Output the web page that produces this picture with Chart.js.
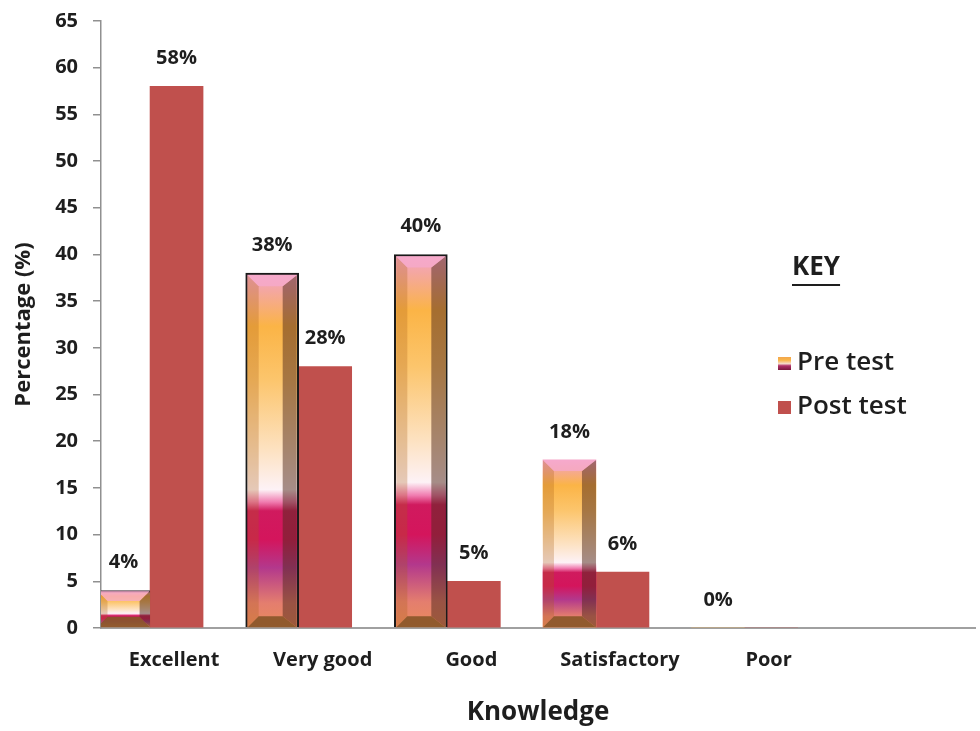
<!DOCTYPE html>
<html>
<head>
<meta charset="utf-8">
<script src="https://cdn.jsdelivr.net/npm/chart.js@4.4.1/dist/chart.umd.min.js"></script>
<style>
  html, body { margin: 0; padding: 0; background: #fff; }
  #wrap { width: 980px; height: 731px; }
</style>
</head>
<body>
<div id="wrap"><canvas id="graf"></canvas></div>
<script>
// values
const categories = ['Excellent', 'Very good', 'Good', 'Satisfactory', 'Poor'];
const preTest = [4, 38, 40, 18, 0];
const postTest = [58, 28, 5, 6, 0];
const seriesNames = ['Pre test', 'Post test'];
const yMax = 65;
const yStep = 5;

const FONT = '"Open Sans", "DejaVu Sans", sans-serif';
const TXT = '#1e1e1e';
const RED = '#c0504d';

// vertical colour run of the pre test bars, bottom (0) to top (1)
const preStops = [
  [0.00, '#e98b5c'], [0.07, '#e47e6e'], [0.17, '#b3388c'], [0.25, '#d4155c'],
  [0.33, '#d01a5e'], [0.355, '#f07cb0'], [0.39, '#fdf2f6'], [0.50, '#fde2c2'],
  [0.70, '#fcc56c'], [0.85, '#fbb446'], [0.95, '#f4a7a0'], [1.00, '#f5a6c8']
];

function preFill(c) {
  const chart = c.chart;
  if (!chart.chartArea || c.type !== 'data') return '#f9b44a';
  const ys = chart.scales.y;
  const top = ys.getPixelForValue(c.parsed.y);
  const base = ys.getPixelForValue(0);
  if (Math.abs(base - top) < 1) return '#f9b44a';
  const g = chart.ctx.createLinearGradient(0, base, 0, top);
  preStops.forEach(s => g.addColorStop(s[0], s[1]));
  return g;
}

// bevel shading on the pre test bars
const bevel = {
  id: 'bevel',
  afterDatasetsDraw(chart) {
    const ctx = chart.ctx;
    const ca = chart.chartArea;
    const meta = chart.getDatasetMeta(0);
    ctx.save();
    ctx.beginPath();
    ctx.rect(ca.left, ca.top, ca.right - ca.left, ca.bottom - ca.top);
    ctx.clip();
    meta.data.forEach((el, i) => {
      const p = el.getProps(['x', 'y', 'base', 'width'], true);
      const h = p.base - p.y;
      if (h < 2) return;
      const bw = (i == 1 || i == 2) ? 2 : 0;
      const x0 = p.x - p.width / 2 + bw, x1 = p.x + p.width / 2 - bw;
      const y0 = p.y + bw, y1 = p.base;
      const b = Math.min(11, h / 3.5);
      const br = Math.min(14, h / 3.5);
      const poly = (pts, col) => {
        ctx.beginPath();
        ctx.moveTo(pts[0][0], pts[0][1]);
        pts.slice(1).forEach(q => ctx.lineTo(q[0], q[1]));
        ctx.closePath();
        ctx.fillStyle = col;
        ctx.fill();
      };
      poly([[x0, y0], [x0 + b, y0 + b], [x0 + b, y1 - b], [x0, y1]], 'rgba(170,95,20,0.28)');
      poly([[x1, y0], [x1 - br, y0 + b], [x1 - br, y1 - b], [x1, y1]], 'rgba(80,40,25,0.50)');
      poly([[x0, y0], [x1, y0], [x1 - br, y0 + b], [x0 + b, y0 + b]], 'rgba(246,170,205,0.75)');
      poly([[x0, y1], [x1, y1], [x1 - br, y1 - b], [x0 + b, y1 - b]], 'rgba(135,85,40,0.9)');
    });
    ctx.restore();
  }
};

// percentage labels over the bars
const barLabels = {
  id: 'barLabels',
  afterDatasetsDraw(chart) {
    const ctx = chart.ctx;
    ctx.save();
    ctx.font = 'bold 20px ' + FONT;
    ctx.fillStyle = TXT;
    ctx.textAlign = 'center';
    ctx.textBaseline = 'middle';
    chart.data.datasets.forEach((ds, d) => {
      chart.getDatasetMeta(d).data.forEach((el, i) => {
        const v = ds.data[i].y;
        if (d == 1 && v == 0) return;
        ctx.fillText(v + '%', el.x, el.y - 28);
      });
    });
    ctx.restore();
  }
};

// the "KEY" box on the right
const keyBox = {
  id: 'keyBox',
  afterDraw(chart) {
    const ctx = chart.ctx;
    const x = 778;
    ctx.save();
    ctx.fillStyle = TXT;
    ctx.font = 'bold 26px ' + FONT;
    ctx.textBaseline = 'middle';
    ctx.textAlign = 'left';
    ctx.fillText('KEY', 792, 268);
    const w = ctx.measureText('KEY').width;
    ctx.fillRect(792, 284, w, 2);

    ctx.font = '600 26px ' + FONT;
    chart.data.datasets.forEach((ds, d) => {
      const y = 363 + d * 44;
      if (d == 0) {
        const g = ctx.createLinearGradient(0, y + 7, 0, y - 7);
        g.addColorStop(0, '#7a1a3c'); g.addColorStop(0.3, '#b0306a');
        g.addColorStop(0.45, '#f6dccc'); g.addColorStop(0.7, '#f9b648');
        g.addColorStop(1, '#f0a050');
        ctx.fillStyle = g;
      } else {
        ctx.fillStyle = RED;
      }
      ctx.fillRect(x, y - 6, 13, 13);
      ctx.fillStyle = TXT;
      ctx.fillText(ds.label, x + 19, y);
    });
    ctx.restore();
  }
};

const toPoints = arr => arr.map((v, i) => ({x: i, y: v}));

new Chart('graf', {
  type: 'bar',
  data: {
    datasets: [{
      label: seriesNames[0],
      data: toPoints(preTest),
      backgroundColor: preFill,
      borderColor: '#1a1a1a',
      borderWidth: [{top: 2}, 2, 2, 0, 0],
      barThickness: 53
    }, {
      label: seriesNames[1],
      data: toPoints(postTest),
      backgroundColor: RED,
      borderWidth: 0,
      barThickness: 53
    }]
  },
  options: {
    responsive: true,
    maintainAspectRatio: false,
    animation: false,
    layout: {padding: {top: 21, right: 5, bottom: 0, left: 0}},
    plugins: {
      legend: {display: false},
      tooltip: {enabled: false}
    },
    scales: {
      x: {
        type: 'linear',
        offset: false,
        min: -0.33,
        max: 5.55,
        afterBuildTicks: s => { s.ticks = categories.map((c, i) => ({value: i})); },
        afterFit: s => { s.height = 103; },
        grid: {display: false, drawTicks: false, offset: false},
        border: {display: true, color: '#a0a0a0', width: 2},
        ticks: {
          callback: v => categories[v] ?? '',
          labelOffset: 24,
          padding: 20,
          maxRotation: 0,
          autoSkip: false,
          color: TXT,
          font: {family: FONT, size: 20, weight: 'bold'}
        },
        title: {
          display: true,
          text: 'Knowledge',
          color: TXT,
          font: {family: FONT, size: 26, weight: 'bold'},
          padding: {top: 0, bottom: 3}
        }
      },
      y: {
        min: 0,
        max: yMax,
        afterFit: s => { s.width = 101; s.paddingTop = 0; s.paddingBottom = 0; },
        grid: {drawOnChartArea: false, drawTicks: true, tickLength: 8, color: '#909090', lineWidth: 1.5},
        border: {display: true, color: '#909090', width: 1.5},
        ticks: {
          stepSize: yStep,
          padding: 15,
          color: TXT,
          font: {family: FONT, size: 20, weight: 'bold'}
        },
        title: {
          display: true,
          text: 'Percentage (%)',
          color: TXT,
          font: {family: FONT, size: 22, weight: 'bold'},
          padding: {top: 11, bottom: 0}
        }
      }
    }
  },
  plugins: [bevel, barLabels, keyBox]
});
</script>
</body>
</html>
